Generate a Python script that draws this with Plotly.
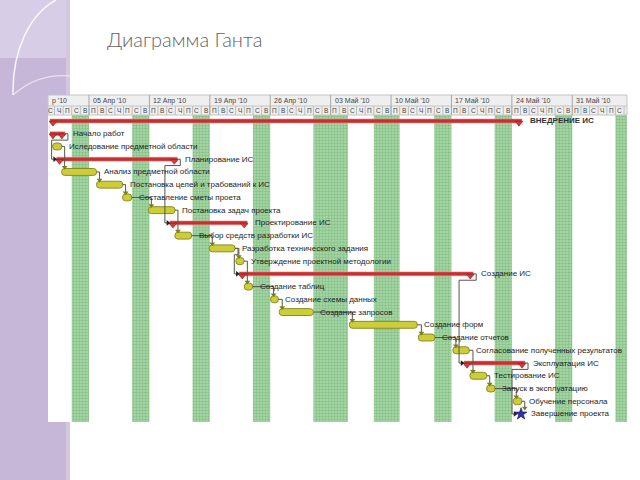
import plotly.graph_objects as go
import pandas as pd

# ---------------- data ----------------
task_names = [
    "ВНЕДРЕНИЕ ИС", "Начало работ", "Иследование предметной области", "Планирование ИС",
    "Анализ предметной области", "Постановка целей и трабований к ИС", "Составление сметы проета",
    "Постановка задач проекта", "Проектирование ИС", "Выбор средств разработки ИС",
    "Разработка технического задания", "Утверждение проектной методологии", "Создание ИС",
    "Создание таблиц", "Создание схемы данных", "Создание запросов", "Создание форм",
    "Создание отчетов", "Согласование полученных результатов", "Эксплуатация ИС",
    "Тестирование ИС", "Запуск в эксплуатацию", "Обучение персонала", "Завершение проекта",
]
task_kinds = [
    "summary", "summary", "task", "summary", "task", "task", "task", "task", "summary", "task",
    "task", "task", "summary", "task", "task", "task", "task", "task", "task", "summary",
    "task", "task", "task", "milestone",
]
task_starts = [
    "2010-03-31 11:30", "2010-03-31 11:30", "2010-03-31 19:00", "2010-04-01 06:00",
    "2010-04-01 20:00", "2010-04-05 21:00", "2010-04-08 21:30", "2010-04-11 21:00",
    "2010-04-14 09:00", "2010-04-14 23:00", "2010-04-18 22:30", "2010-04-22 00:30",
    "2010-04-22 10:00", "2010-04-23 00:00", "2010-04-26 01:00", "2010-04-27 01:00",
    "2010-05-05 04:00", "2010-05-13 04:00", "2010-05-17 04:00", "2010-05-18 11:00",
    "2010-05-19 03:30", "2010-05-21 02:00", "2010-05-24 04:00", "2010-05-25 01:30",
]
task_ends = [
    "2010-05-25 04:00", "2010-04-02 05:00", "2010-04-01 20:00", "2010-04-15 05:30",
    "2010-04-05 21:00", "2010-04-08 21:30", "2010-04-09 23:00", "2010-04-14 23:00",
    "2010-04-23 08:00", "2010-04-16 21:30", "2010-04-21 22:00", "2010-04-22 23:00",
    "2010-05-19 12:30", "2010-04-23 23:00", "2010-04-26 22:30", "2010-05-01 00:00",
    "2010-05-13 01:00", "2010-05-15 02:00", "2010-05-19 01:30", "2010-05-25 12:30",
    "2010-05-21 02:00", "2010-05-22 01:00", "2010-05-25 03:30", "2010-05-25 01:30",
]
# predecessor row, successor row, routing
links = [
    (1, 3, "around"), (2, 4, "down"), (4, 5, "down"), (5, 6, "down"), (6, 7, "down"),
    (3, 8, "around"), (7, 9, "down"), (9, 10, "down"), (10, 11, "down"), (10, 12, "around"),
    (11, 13, "down"), (13, 14, "down"), (14, 15, "down"), (15, 16, "down"), (16, 17, "down"),
    (17, 18, "down"), (12, 19, "around"), (18, 20, "down"), (20, 21, "down"), (21, 22, "down"),
    (19, 23, "around"), (22, 23, "down"),
]
nonwork_starts = ["2010-04-03", "2010-04-10", "2010-04-17", "2010-04-24", "2010-05-01",
                  "2010-05-08", "2010-05-15", "2010-05-22", "2010-05-29", "2010-06-05"]
nonwork_days = [2, 2, 2, 2, 4, 3, 2, 2, 2, 2]
week_starts = ["2010-04-05", "2010-04-12", "2010-04-19", "2010-04-26", "2010-05-03",
               "2010-05-10", "2010-05-17", "2010-05-24", "2010-05-31"]
week_labels = ["05 Апр '10", "12 Апр '10", "19 Апр '10", "26 Апр '10", "03 Май '10",
               "10 Май '10", "17 Май '10", "24 Май '10", "31 Май '10"]
day_letters = ["П", "В", "С", "Ч", "П", "С", "В"]  # Mon..Sun
first_day = "2010-03-31"
last_day = "2010-06-06"

# ---------------- layout geometry ----------------
W, H = 640, 480
L, R, T, B = 48, 13, 115, 58
PW, PH = W - L - R, H - T - B
x_range = ["2010-03-31 06:00", "2010-06-06 08:10"]
row_range = [23.63, -0.47]

t0, t1 = pd.Timestamp(x_range[0]), pd.Timestamp(x_range[1])
px = (t1 - t0) / PW  # one pixel in time

def fx(x):  # slide pixel -> paper x
    return (x - L) / PW

def fy(y):  # slide pixel -> paper y
    return (H - B - y) / PH

starts = [pd.Timestamp(s) for s in task_starts]
ends = [pd.Timestamp(e) for e in task_ends]
rows = list(range(len(task_names)))

fig = go.Figure()

# non-working-day stripes (base axes, drawn underneath)
nw_s = [pd.Timestamp(s) for s in nonwork_starts]
fig.add_trace(go.Bar(
    orientation="h", y=[0.5] * len(nw_s), base=[str(s) for s in nw_s],
    x=[d * 86400000 for d in nonwork_days], width=1,
    marker=dict(color="#abd7ab", line=dict(width=0),
                pattern=dict(shape=".", fgcolor="#62ae62", size=3, solidity=0.5)),
    hoverinfo="skip", xaxis="x", yaxis="y", showlegend=False,
))

# dependency links
lx, ly, dx, dy, rx, ry = [], [], [], [], [], []
half = {"task": 0.26, "summary": 0.17, "milestone": 0.36}
for p, s, kind in links:
    pe = ends[p]
    ss = starts[s] - 4 * px if task_kinds[s] == "milestone" else starts[s]
    if kind == "down":
        xs = max(pe, ss) + 3 * px
        ytop = s - half[task_kinds[s]] - 0.1
        lx += [str(pe), str(xs), str(xs), None]
        ly += [p, p, ytop, None]
        dx.append(str(xs)); dy.append(ytop)
    else:
        xr = pe + 3 * px
        xl = ss - 5 * px
        ym = p + 0.5
        lx += [str(pe), str(xr), str(xr), str(xl), str(xl), str(ss - 2 * px), None]
        ly += [p, p, ym, ym, s, s, None]
        rx.append(str(ss - 2 * px)); ry.append(s)
fig.add_trace(go.Scatter(x=lx, y=ly, mode="lines", line=dict(color="#55554a", width=1),
                         hoverinfo="skip", xaxis="x2", yaxis="y2", showlegend=False))

# task bars
ti = [i for i in rows if task_kinds[i] == "task"]
fig.add_trace(go.Bar(
    orientation="h", y=ti, base=[str(starts[i]) for i in ti],
    x=[(ends[i] - starts[i]).total_seconds() * 1000 for i in ti], width=0.54,
    marker=dict(color="#cdcd3a", line=dict(color="#8c8c22", width=1), cornerradius=3),
    hoverinfo="skip", xaxis="x2", yaxis="y2", showlegend=False,
))
# summary bars
si = [i for i in rows if task_kinds[i] == "summary"]
fig.add_trace(go.Bar(
    orientation="h", y=si, base=[str(starts[i]) for i in si],
    x=[(ends[i] - starts[i]).total_seconds() * 1000 for i in si], width=0.3,
    marker=dict(color="#c83030", line=dict(color="#e08080", width=0.6)),
    hoverinfo="skip", xaxis="x2", yaxis="y2", showlegend=False,
))
tx, ty = [], []
for i in si:
    tx += [str(starts[i] + 3 * px), str(ends[i] - 3 * px)]
    ty += [i + 0.15, i + 0.15]
fig.add_trace(go.Scatter(x=tx, y=ty, mode="markers",
                         marker=dict(symbol="triangle-down", size=6.5, color="#d23a3a",
                                     line=dict(color="#8e1c1c", width=0.6)),
                         hoverinfo="skip", xaxis="x2", yaxis="y2", showlegend=False))
# link arrowheads
fig.add_trace(go.Scatter(x=dx, y=dy, mode="markers",
                         marker=dict(symbol="triangle-down", size=5, color="#7d7d1e"),
                         hoverinfo="skip", xaxis="x2", yaxis="y2", showlegend=False))
fig.add_trace(go.Scatter(x=rx, y=ry, mode="markers",
                         marker=dict(symbol="triangle-right", size=5, color="#222222"),
                         hoverinfo="skip", xaxis="x2", yaxis="y2", showlegend=False))
# milestone
mi = [i for i in rows if task_kinds[i] == "milestone"]
fig.add_trace(go.Scatter(x=[str(starts[i]) for i in mi], y=mi, mode="markers",
                         marker=dict(symbol="star", size=9, color="#2d2db8",
                                     line=dict(color="#15155e", width=0.6)),
                         hoverinfo="skip", xaxis="x2", yaxis="y2", showlegend=False))

annotations = []
# task labels
for i in rows:
    k = task_kinds[i]
    shift = {"task": 5, "summary": 6, "milestone": 8}[k]
    txt = "<b>" + task_names[i] + "</b>" if i == 0 else task_names[i]
    annotations.append(dict(
        x=str(ends[i]), y=i, xref="x2", yref="y2", text=txt, showarrow=False,
        xanchor="left", yanchor="middle", xshift=shift,
        font=dict(family="Liberation Sans, Arial", size=8, color="#1e1e1e" if i else "#333333"),
    ))

shapes = []
# slide decoration (left lavender band)
shapes.append(dict(type="rect", xref="paper", yref="paper", x0=fx(0), x1=fx(70), y0=fy(480), y1=fy(0),
                   fillcolor="#c6b7d9", line=dict(width=0), layer="below"))
shapes.append(dict(type="rect", xref="paper", yref="paper", x0=fx(0), x1=fx(70), y0=fy(58), y1=fy(0),
                   fillcolor="#d7cde6", line=dict(width=0), layer="below"))
shapes.append(dict(type="rect", xref="paper", yref="paper", x0=fx(66), x1=fx(70), y0=fy(480), y1=fy(0),
                   fillcolor="#d3c8e3", line=dict(width=0), layer="below"))
arc = "M {},{} C {},{} {},{} {},{}".format(fx(56), fy(0), fx(30), fy(14), fx(12), fy(50), fx(13), fy(95))
shapes.append(dict(type="path", xref="paper", yref="paper", path=arc,
                   line=dict(color="rgba(255,255,255,0.85)", width=1.5), layer="below"))
arc2 = "M {},{} C {},{} {},{} {},{}".format(fx(13), fy(95), fx(30), fy(80), fx(50), fy(74), fx(70), fy(76))
shapes.append(dict(type="path", xref="paper", yref="paper", path=arc2,
                   line=dict(color="rgba(255,255,255,0.6)", width=1.2), layer="below"))
# white picture area
shapes.append(dict(type="rect", xref="paper", yref="paper", x0=0, x1=1, y0=0, y1=fy(95),
                   fillcolor="white", line=dict(width=0), layer="below"))
# header background and lines
shapes.append(dict(type="rect", xref="paper", yref="paper", x0=0, x1=1, y0=fy(115), y1=fy(95),
                   fillcolor="#efefef", line=dict(color="#c4c4c4", width=1)))
shapes.append(dict(type="line", xref="paper", yref="paper", x0=0, x1=1, y0=fy(106), y1=fy(106),
                   line=dict(color="#c4c4c4", width=1)))
days = pd.date_range(first_day, last_day, freq="D")
for d in days:
    shapes.append(dict(type="line", xref="x", yref="paper", x0=str(d), x1=str(d),
                       y0=fy(115), y1=fy(106), line=dict(color="#bdbdbd", width=1)))
    mid = d + pd.Timedelta(hours=12)
    if t0 <= mid <= t1:
        annotations.append(dict(x=str(mid), y=fy(110.5), xref="x", yref="paper",
                                text=day_letters[d.dayofweek], showarrow=False,
                                xanchor="center", yanchor="middle",
                                font=dict(family="Liberation Sans, Arial", size=6.5, color="#444444")))
for ws, wl in zip(week_starts, week_labels):
    shapes.append(dict(type="line", xref="x", yref="paper", x0=ws, x1=ws,
                       y0=fy(115), y1=fy(95), line=dict(color="#a8a8a8", width=1)))
    annotations.append(dict(x=ws, y=fy(100.5), xref="x", yref="paper", text=wl, showarrow=False,
                            xanchor="left", yanchor="middle", xshift=2,
                            font=dict(family="Liberation Sans, Arial", size=7, color="#444444")))
annotations.append(dict(x=0, y=fy(100.5), xref="paper", yref="paper", text="р '10", showarrow=False,
                        xanchor="left", yanchor="middle", xshift=2,
                        font=dict(family="Liberation Sans, Arial", size=7, color="#444444")))

fig.update_layout(
    width=W, height=H, margin=dict(l=L, r=R, t=T, b=B),
    paper_bgcolor="white", plot_bgcolor="white", barmode="overlay", showlegend=False,
    title=dict(text="Диаграмма Ганта", x=107 / W, xanchor="left", xref="container",
               y=1 - 40 / H, yanchor="middle", yref="container",
               font=dict(family="Lato", size=20, color="#636363", weight=300)),
    xaxis=dict(type="date", range=x_range, visible=False, showgrid=False, zeroline=False),
    yaxis=dict(range=[0, 1], visible=False, showgrid=False, zeroline=False),
    xaxis2=dict(type="date", range=x_range, overlaying="x", visible=False, showgrid=False),
    yaxis2=dict(range=row_range, overlaying="y", visible=False, showgrid=False, zeroline=False),
    shapes=shapes, annotations=annotations,
)

fig.write_html("out.html")
